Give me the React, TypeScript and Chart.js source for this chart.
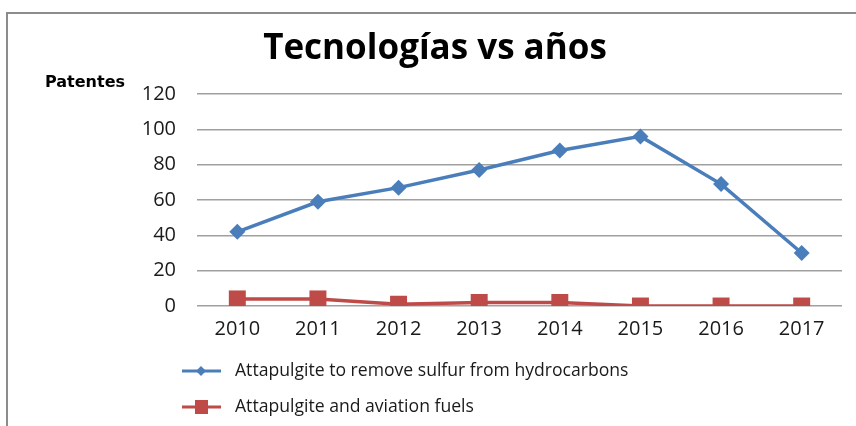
import React, { useEffect, useRef } from "react";
import { Chart, registerables } from "chart.js";

Chart.register(...registerables);

const categories = ["2010", "2011", "2012", "2013", "2014", "2015", "2016", "2017"];
const sulfurValues = [42, 59, 67, 77, 88, 96, 69, 30];
const aviationValues = [4, 4, 1, 2, 2, 0, 0, 0];
const seriesNames = [
  "Attapulgite to remove sulfur from hydrocarbons",
  "Attapulgite and aviation fuels",
];
const chartTitle = "Tecnologías vs años";
const yAxisLabel = "Patentes";

const BLUE = "#4A7EBB";
const RED = "#BE4B48";
const FONT = "'Open Sans', 'Noto Sans', sans-serif";

const decorPlugin = {
  id: "decor",
  afterDraw(chart: any) {
    const ctx = chart.ctx as CanvasRenderingContext2D;
    ctx.save();
    // frame
    ctx.strokeStyle = "#8c8c8c";
    ctx.lineWidth = 2;
    ctx.beginPath();
    ctx.moveTo(7, 430);
    ctx.lineTo(7, 13);
    ctx.lineTo(860, 13);
    ctx.stroke();
    // title
    ctx.fillStyle = "#000";
    ctx.textAlign = "center";
    ctx.textBaseline = "middle";
    ctx.font = `bold 35px ${FONT}`;
    ctx.fillText(chartTitle, 435, 49);
    // axis label
    ctx.textAlign = "left";
    ctx.font = `bold 16px 'DejaVu Sans', sans-serif`;
    ctx.fillText(yAxisLabel, 45, 83);
    // legend
    const items = [
      { color: BLUE, y: 371, shape: "diamond" },
      { color: RED, y: 407, shape: "square" },
    ];
    items.forEach((it, i) => {
      ctx.strokeStyle = it.color;
      ctx.fillStyle = it.color;
      ctx.lineWidth = 3;
      ctx.beginPath();
      ctx.moveTo(182, it.y);
      ctx.lineTo(221, it.y);
      ctx.stroke();
      ctx.beginPath();
      if (it.shape === "diamond") {
        ctx.moveTo(201, it.y - 5);
        ctx.lineTo(206, it.y);
        ctx.lineTo(201, it.y + 5);
        ctx.lineTo(196, it.y);
        ctx.closePath();
      } else {
        ctx.rect(195, it.y - 7, 13, 14);
      }
      ctx.fill();
      ctx.fillStyle = "#1a1a1a";
      ctx.font = `17.6px ${FONT}`;
      ctx.textAlign = "left";
      ctx.textBaseline = "middle";
      ctx.fillText(seriesNames[i], 235, it.y);
    });
    ctx.restore();
  },
};

export default function App() {
  const ref = useRef<HTMLCanvasElement | null>(null);
  useEffect(() => {
    if (!ref.current) return;
    const chart = new Chart(ref.current, {
      type: "line",
      data: {
        labels: categories,
        datasets: [
          {
            label: seriesNames[0],
            data: sulfurValues,
            borderColor: BLUE,
            backgroundColor: BLUE,
            borderWidth: 3.5,
            pointStyle: "rectRot",
            pointRadius: 8,
            pointBorderWidth: 0,
            tension: 0,
          },
          {
            label: seriesNames[1],
            data: aviationValues,
            borderColor: RED,
            backgroundColor: RED,
            borderWidth: 3.5,
            pointStyle: "rect",
            pointRadius: 12,
            pointBorderWidth: 0,
            tension: 0,
          },
        ],
      },
      options: {
        animation: false,
        responsive: false,
        maintainAspectRatio: false,
        layout: { padding: { top: 94, right: 14, bottom: 80, left: 0 } },
        plugins: {
          legend: { display: false },
          title: { display: false },
          tooltip: { enabled: false },
        },
        scales: {
          x: {
            offset: true,
            grid: { display: false, drawTicks: false },
            border: { display: false },
            ticks: {
              color: "#1a1a1a",
              font: { family: FONT, size: 20 },
              padding: 11,
              maxRotation: 0,
            },
            afterFit(scale: any) {
              scale.height = 40;
            },
          },
          y: {
            min: 0,
            max: 120,
            grid: { color: "#a0a0a0", lineWidth: 1.5, drawTicks: false },
            border: { display: false },
            ticks: {
              stepSize: 20,
              color: "#1a1a1a",
              font: { family: FONT, size: 20 },
              padding: 21,
            },
            afterFit(scale: any) {
              scale.width = 197;
            },
          },
        },
      },
      plugins: [decorPlugin],
    });
    return () => chart.destroy();
  }, []);
  return (
    <div style={{ position: "fixed", left: 0, top: 0, width: 856, height: 426, background: "#fff" }}>
      <canvas ref={ref} width={856} height={426} style={{ width: 856, height: 426 }} />
    </div>
  );
}
